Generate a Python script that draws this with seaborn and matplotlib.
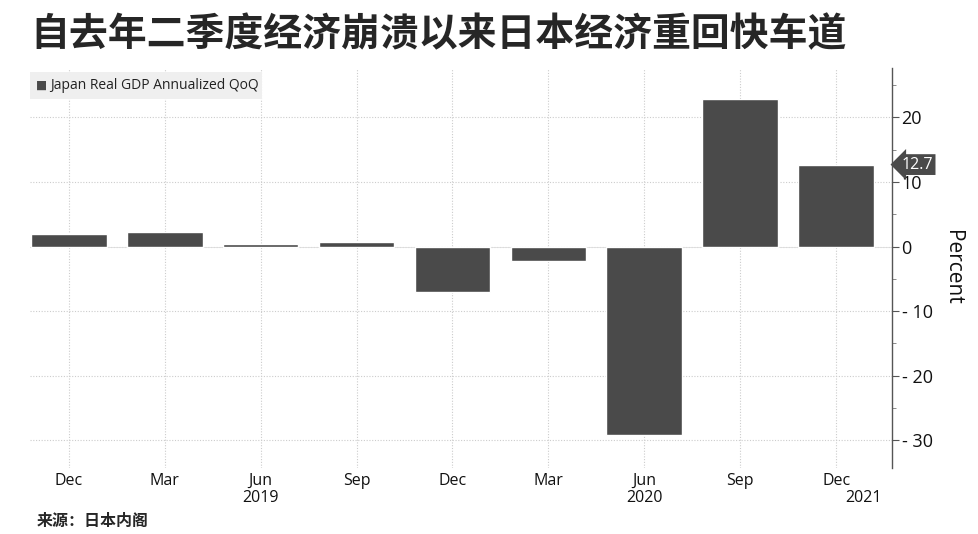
import matplotlib.pyplot as plt
import matplotlib.transforms as mtransforms
import pandas as pd
import seaborn as sns
from matplotlib.ticker import MultipleLocator

quarters = ["Dec 2018", "Mar 2019", "Jun 2019", "Sep 2019", "Dec 2019",
            "Mar 2020", "Jun 2020", "Sep 2020", "Dec 2020"]
month_labels = ["Dec", "Mar", "Jun", "Sep", "Dec", "Mar", "Jun", "Sep", "Dec"]
gdp_qoq = [1.9, 2.3, 0.4, 0.7, -7.1, -2.2, -29.2, 22.8, 12.7]
year_labels = [(2, "2019"), (6, "2020"), (8.28, "2021")]

df = pd.DataFrame({"quarter": quarters, "value": gdp_qoq})

sns.set_style("white")
plt.rcParams["font.family"] = ["Open Sans", "DejaVu Sans"]
cjk = ["Noto Sans CJK SC", "DejaVu Sans"]

fig = plt.figure(figsize=(9.79, 5.34), dpi=100)
ax = fig.add_axes([0.031, 0.124, 0.880, 0.749])

bar_color = "#4a4a4a"
sns.barplot(data=df, x="quarter", y="value", order=quarters, color=bar_color,
            width=0.79, saturation=1, ax=ax, zorder=3)

ax.set_xlim(-0.4, 8.58)
ax.set_ylim(-34.3, 27.7)

# axis on the right
ax.yaxis.tick_right()
ax.yaxis.set_label_position("right")
ax.yaxis.set_major_locator(MultipleLocator(10))
ax.yaxis.set_minor_locator(MultipleLocator(5))
for s in ["left", "top", "bottom"]:
    ax.spines[s].set_visible(False)
ax.spines["right"].set_color("#555555")
ax.spines["right"].set_linewidth(1.0)
ax.tick_params(axis="y", which="major", length=5, color="#555555",
               labelsize=13, pad=2, labelcolor="#111111")
ax.tick_params(axis="y", which="minor", length=3, color="#777777")
ax.tick_params(axis="x", length=0, labelsize=11.5, pad=4, labelcolor="#111111")
ax.set_xticks(range(len(quarters)))
ax.set_xticklabels(month_labels)
ax.set_yticklabels([f"{int(t)}".replace("-", "- ") for t in ax.get_yticks()])
ax.set_xlabel("")
ax.set_ylabel("Percent", rotation=270, fontsize=15, labelpad=22, color="#111111")

ax.grid(True, which="major", axis="both", color="#cccccc", linestyle=(0, (1, 1.5)),
        linewidth=0.8, zorder=0)
ax.axhline(0, color="#dddddd", linewidth=0.6, zorder=1)

# year labels under the month labels
trans = mtransforms.blended_transform_factory(ax.transData, fig.transFigure)
for pos, yr in year_labels:
    ax.text(pos, 0.067, yr, transform=trans, ha="center", va="center",
            fontsize=11.5, color="#111111")

# last value tag
ax.annotate(f"{gdp_qoq[-1]}", xy=(1.0, gdp_qoq[-1]),
            xycoords=("axes fraction", "data"), xytext=(7, 0),
            textcoords="offset points", va="center", ha="left",
            fontsize=11.5, color="white",
            bbox=dict(boxstyle="larrow,pad=0.15", fc="#4a4a4a", ec="none"))

# legend
leg_ax = fig.add_axes([0.031, 0.815, 0.237, 0.05])
leg_ax.set_facecolor("#efefef")
leg_ax.set_xticks([])
leg_ax.set_yticks([])
for s in leg_ax.spines.values():
    s.set_visible(False)
leg_ax.text(0.025, 0.5, "\u25a0", fontsize=8.5, color=bar_color, va="center",
            ha="left", family="DejaVu Sans")
leg_ax.text(0.085, 0.5, "Japan Real GDP Annualized QoQ", fontsize=10,
            color="#222222", va="center", ha="left")

fig.text(0.031, 0.935, "自去年二季度经济崩溃以来日本经济重回快车道",
         family=cjk, fontsize=28, fontweight="heavy", va="center", ha="left")
fig.text(0.037, 0.025, "来源：日本内阁", family=cjk, fontsize=11.5,
         fontweight="bold", va="center", ha="left")

fig.savefig("out.png", dpi=100, facecolor="white")
